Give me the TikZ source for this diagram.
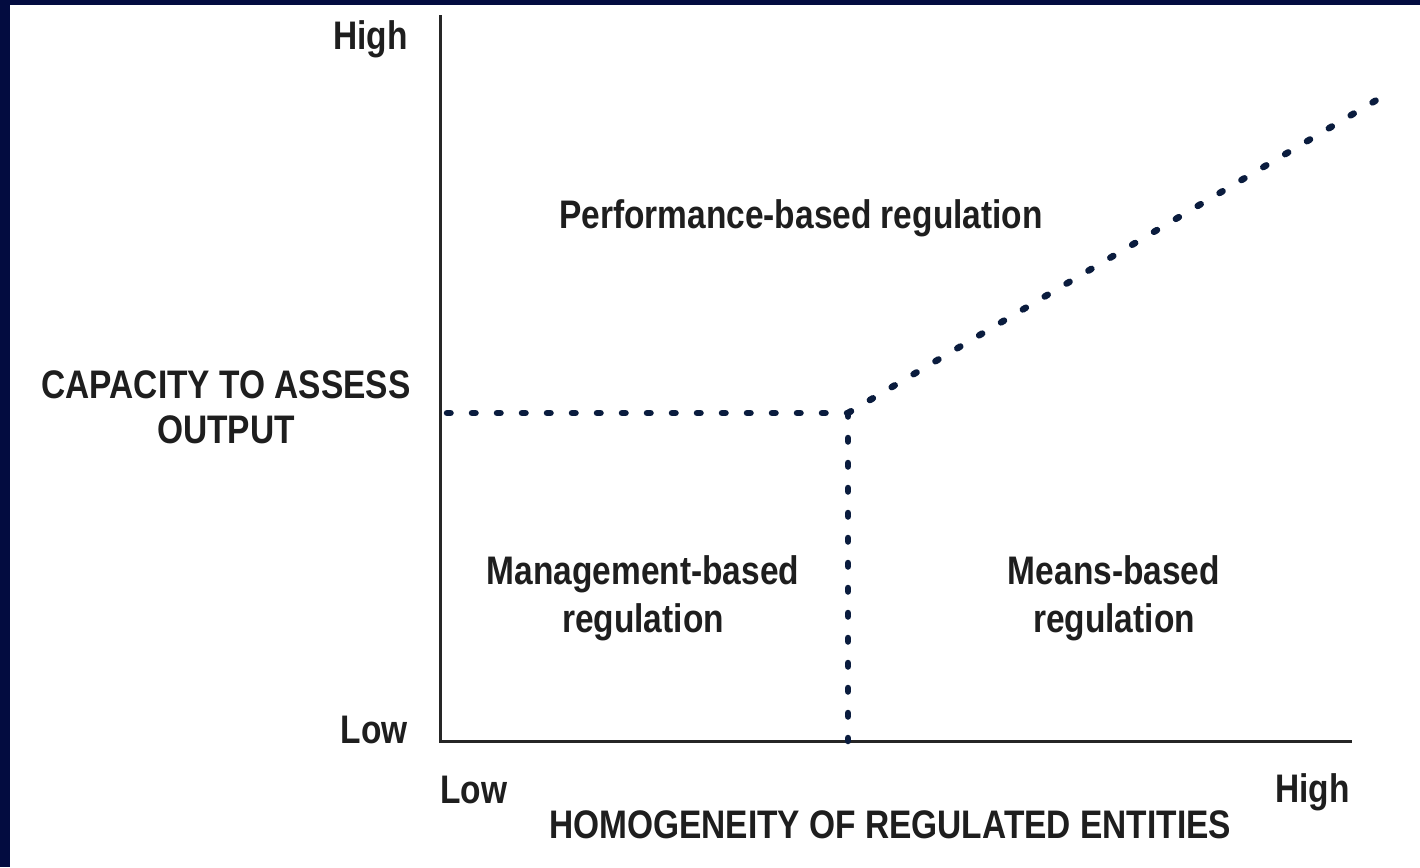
\documentclass[tikz,border=0pt]{standalone}
\usepackage{fontspec}
\setmainfont{Liberation Sans}[FakeStretch=0.84]
\definecolor{navyband}{RGB}{3,12,64}
\definecolor{dotnavy}{RGB}{10,28,62}
\definecolor{txt}{RGB}{30,30,30}
\begin{document}
\begin{tikzpicture}[x=1bp,y=-1bp,
  lbl/.style={text=txt,inner sep=0pt,font=\fontsize{40}{47}\selectfont\bfseries,anchor=base},
  axisline/.style={draw=black!85,line width=3bp},
  dotline/.style={draw=dotnavy,line width=6.5bp,line cap=round,dash pattern=on 3.5bp off 21.5bp},
  diagdots/.style={dotline,dash pattern=on 3.5bp off 21.9bp}]
\useasboundingbox (0,0) rectangle (1420,867);
\fill[white] (0,0) rectangle (1420,867);
\fill[navyband] (0,0) rectangle (1420,5);
\fill[navyband] (0,0) rectangle (10,867);
% axes
\coordinate (ytop) at (440,15);
\coordinate (origin) at (440,741);
\coordinate (xend) at (1352,741);
\draw[axisline] (ytop) -- (origin) -- (xend);
% dotted boundaries
\coordinate (hstart) at (447,413);
\coordinate (corner) at (848,413);
\coordinate (vend) at (848,741);
\coordinate (dend) at (1380,98);
\draw[dotline] (hstart) -- (corner);
\draw[dotline] (corner) -- (vend);
\draw[diagdots] (corner) -- (dend);
% labels
\node[lbl,anchor=base east] (yhigh) at (408,49) {High};
\node[lbl,anchor=base east] (ylow) at (408,743) {Low};
\node[lbl,anchor=base west] (xlow) at (440,803) {Low};
\node[lbl,anchor=base east] (xhigh) at (1350,802) {High};
\node[lbl] (perf) at (801,228) {Performance-based regulation};
\node[lbl] (cap1) at (226,398) {CAPACITY TO ASSESS};
\node[lbl] (cap2) at (226,443) {OUTPUT};
\node[lbl] (man1) at (643,584) {Management-based};
\node[lbl] (man2) at (643,632) {regulation};
\node[lbl] (mea1) at (1114,584) {Means-based};
\node[lbl] (mea2) at (1114,632) {regulation};
\node[lbl] (xtitle) at (890,838) {HOMOGENEITY OF REGULATED ENTITIES};
\end{tikzpicture}
\end{document}
